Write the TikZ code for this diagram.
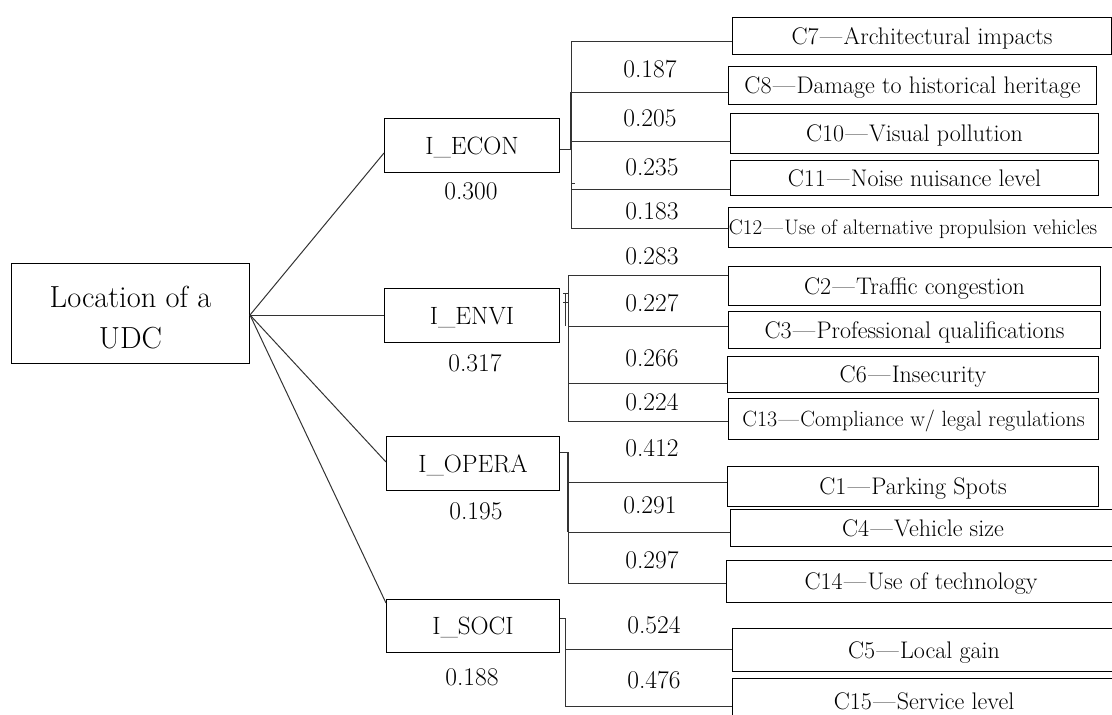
\documentclass[tikz,border=0pt]{standalone}
\usetikzlibrary{calc}
\newcommand{\dsh}{\kern1.5pt—\kern1.5pt}
\begin{document}
\begin{tikzpicture}[x=1pt,y=-1pt,
  base/.style={draw=black, line width=1pt, inner sep=0pt, anchor=north west},
  crit/.style={base, text height=16.4pt, text depth=0pt, font=\fontsize{24}{28}\selectfont},
  ind/.style={base, minimum width=175pt, minimum height=54pt, text height=17pt, text depth=0pt, font=\fontsize{25}{29}\selectfont},
  num/.style={inner sep=0pt, font=\fontsize{25.5}{29}\selectfont},
  link/.style={draw=black!80, line width=1pt}
]
\useasboundingbox (0,0) rectangle (1112,715);

% root
\node[base, minimum width=238pt, minimum height=100pt, align=center,
      font=\fontsize{30.5}{41}\selectfont] (root) at (11,263) {\rule{0pt}{29pt}Location of a\\UDC};

% indicators
\node[ind] (econ)  at (384,118) {I\_ECON};
\node[ind] (envi)  at (384,288) {I\_ENVI};
\node[ind, minimum width=173pt] (opera) at (386,436) {I\_OPERA};
\node[ind, minimum width=173pt, minimum height=53pt] (soci)  at (386,599) {I\_SOCI};

\node[num] (wecon)  at (471,191) {0.300};
\node[num] (wenvi)  at (475,363) {0.317};
\node[num] (wopera) at (476,511) {0.195};
\node[num] (wsoci)  at (472,677) {0.188};

% criteria
\node[crit, minimum width=379pt, minimum height=37pt] (c7)  at (732,17)  {C7\dsh Architectural impacts};
\node[crit, minimum width=368pt, minimum height=38pt] (c8)  at (728,66)  {C8\dsh Damage to historical heritage};
\node[crit, minimum width=368pt, minimum height=40pt] (c10) at (730,113) {C10\dsh Visual pollution};
\node[crit, minimum width=368pt, minimum height=35pt] (c11) at (730,160) {C11\dsh Noise nuisance level};
\node[crit, minimum width=387pt, minimum height=40pt, text height=14.3pt, font=\fontsize{21}{25}\selectfont] (c12) at (728,207) {C12\dsh Use of alternative propulsion vehicles\hspace*{18pt}};

\node[crit, minimum width=372pt, minimum height=39pt] (c2)  at (728,266) {C2\dsh Traffic congestion};
\node[crit, minimum width=372pt, minimum height=37pt] (c3)  at (728,311) {C3\dsh Professional qualifications};
\node[crit, minimum width=371pt, minimum height=36pt] (c6)  at (727,356) {C6\dsh Insecurity};
\node[crit, minimum width=370pt, minimum height=41pt, text height=15pt, font=\fontsize{22}{26}\selectfont] (c13) at (728,398) {C13\dsh Compliance w/ legal regulations};

\node[crit, minimum width=371pt, minimum height=40pt] (c1)  at (727,466) {C1\dsh Parking Spots};
\node[crit, minimum width=385pt, minimum height=37pt] (c4)  at (730,509) {C4\dsh Vehicle size};
\node[crit, minimum width=389pt, minimum height=42pt] (c14) at (726,560) {C14\dsh Use of technology};

\node[crit, minimum width=383pt, minimum height=43pt] (c5)  at (732,628) {C5\dsh Local gain};
\node[crit, minimum width=383pt, minimum height=45pt] (c15) at (732,678) {C15\dsh Service level};

% weights of criteria
\node[num] at (650,69)  {0.187};
\node[num] at (650,118) {0.205};
\node[num] at (652,167) {0.235};
\node[num] at (652,211) {0.183};
\node[num] at (652,256) {0.283};
\node[num] at (652,303) {0.227};
\node[num] at (652,358) {0.266};
\node[num] at (652,402) {0.224};
\node[num] at (652,448) {0.412};
\node[num] at (650,505) {0.291};
\node[num] at (652,560) {0.297};
\node[num] at (654,625) {0.524};
\node[num] at (654,680) {0.476};

% root to indicators
\coordinate (o) at (root.east |- 0,315);
\draw[link] (o) -- (econ.west |- 0,153);
\draw[link] (o) -- (envi.west |- 0,315);
\draw[link] (o) -- (opera.west |- 0,462);
\draw[link] (o) -- (soci.west |- 0,603);

% ECON branch
\draw[link] (econ.east |- 0,149) -- (571,149);
\draw[link] (571,41) -- (571,228);
\draw[link, line width=2pt] (571,92) -- (571,149);
\draw[link] (571,183) -- (575,183);
\draw[link] (571,41)  -- (c7.west  |- 0,41);
\draw[link] (571,92)  -- (c8.west  |- 0,92);
\draw[link] (571,141) -- (c10.west |- 0,141);
\draw[link] (571,189) -- (c11.west |- 0,189);
\draw[link] (571,228) -- (c12.west |- 0,228);

% ENVI branch
\draw[link] (563,293) -- (568,293);
\draw[link] (563,302) -- (568,302);
\draw[link] (568,275) -- (568,421);
\draw[link] (565.5,293) -- (565.5,326);
\draw[link] (568,275) -- (c2.west  |- 0,275);
\draw[link] (568,326) -- (c3.west  |- 0,326);
\draw[link] (568,383) -- (c6.west  |- 0,383);
\draw[link] (568,421) -- (c13.west |- 0,421);

% OPERA branch
\draw[link] (opera.east |- 0,452) -- (568,452);
\draw[link] (568,452) -- (568,583);
\draw[link, line width=2pt] (568,452) -- (568,532);
\draw[link] (568,482) -- (c1.west  |- 0,482);
\draw[link] (568,532) -- (c4.west  |- 0,532);
\draw[link] (568,583) -- (c14.west |- 0,583);

% SOCI branch
\draw[link] (soci.east |- 0,618) -- (565,618);
\draw[link] (565,618) -- (565,706);
\draw[link] (565,649) -- (c5.west  |- 0,649);
\draw[link] (565,706) -- (c15.west |- 0,706);
\end{tikzpicture}
\end{document}
